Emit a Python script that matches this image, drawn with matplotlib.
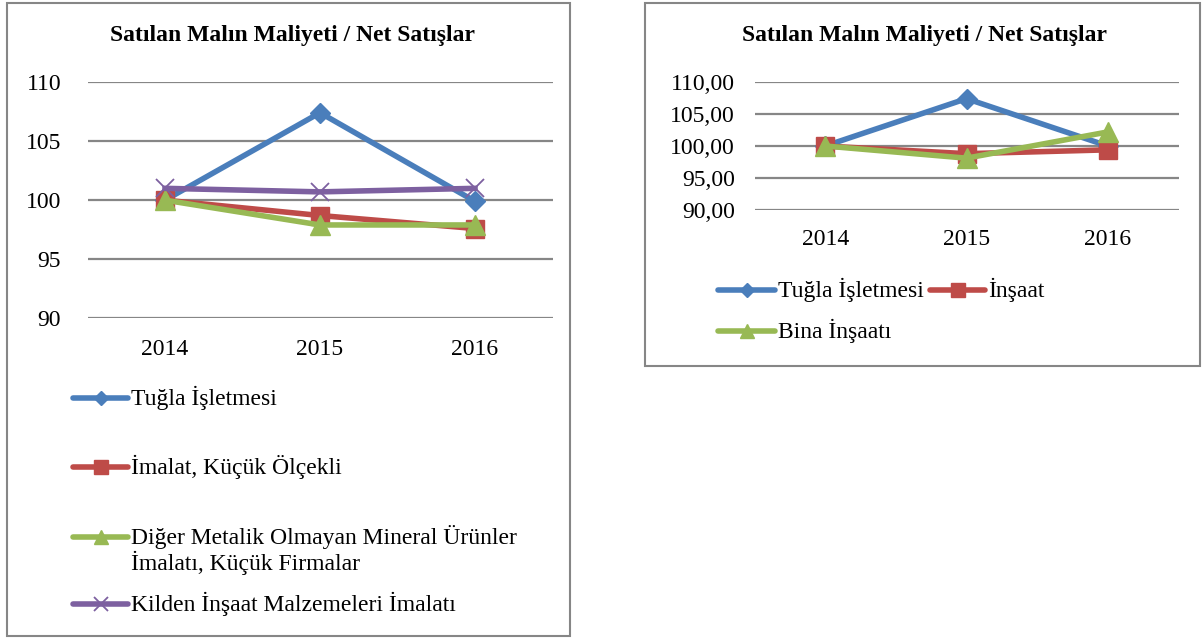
import matplotlib
matplotlib.use("Agg")
import matplotlib.pyplot as plt
from matplotlib.lines import Line2D
from matplotlib.patches import Rectangle

plt.rcParams['font.family'] = 'serif'
plt.rcParams['font.serif'] = ['Liberation Serif', 'DejaVu Serif']

years = ["2014", "2015", "2016"]
title = "Satılan Malın Maliyeti / Net Satışlar"

# Left chart
left_labels = ["Tuğla İşletmesi", "İmalat, Küçük Ölçekli",
               "Diğer Metalik Olmayan Mineral Ürünler\nİmalatı, Küçük Firmalar",
               "Kilden İnşaat Malzemeleri İmalatı"]
tugla_left = [100.0, 107.4, 99.9]
imalat_left = [100.0, 98.7, 97.6]
diger_left = [100.0, 97.9, 97.9]
kilden_left = [101.0, 100.7, 101.0]

# Right chart
right_labels = ["Tuğla İşletmesi", "İnşaat", "Bina İnşaatı"]
tugla_right = [100.0, 107.4, 100.0]
insaat_right = [100.0, 98.8, 99.4]
bina_right = [100.0, 98.1, 102.2]

yticks = [90, 95, 100, 105, 110]

BLUE = "#4A7EBB"
RED = "#BE4B48"
GREEN = "#98B954"
PURPLE = "#7D60A0"
GRID = "#868686"
FS = 17

W, H = 1202, 639
fig = plt.figure(figsize=(W / 100, H / 100), dpi=100)


def fx(x):
    return x / W


def fy(y):
    return 1 - y / H


def add_ax(x0, y0, x1, y1):
    return fig.add_axes([fx(x0), fy(y1), fx(x1 - x0), (y1 - y0) / H])


# Panel borders
fig.add_artist(Rectangle((fx(7), fy(636)), fx(570 - 7), (636 - 3) / H,
                         transform=fig.transFigure, fill=False,
                         edgecolor=GRID, lw=1.5))
fig.add_artist(Rectangle((fx(645), fy(366)), fx(1200 - 645), (366 - 3) / H,
                         transform=fig.transFigure, fill=False,
                         edgecolor=GRID, lw=1.5))

styles = {
    "blue": dict(color=BLUE, marker="D", markersize=10),
    "red": dict(color=RED, marker="s", markersize=13),
    "green": dict(color=GREEN, marker="^", markersize=14),
    "purple": dict(color=PURPLE, marker="x", markersize=13, markeredgewidth=1.3),
}


def style_axes(ax, fmt, pad_y, pad_x):
    ax.set_ylim(90, 110)
    ax.set_xlim(-0.5, 2.5)
    ax.set_yticks(yticks)
    ax.set_yticklabels([fmt(v) for v in yticks])
    ax.set_xticks(range(len(years)))
    ax.set_xticklabels(years)
    ax.tick_params(axis="y", length=0, pad=pad_y, labelsize=FS)
    ax.tick_params(axis="x", length=0, pad=pad_x, labelsize=FS)
    for s in ax.spines.values():
        s.set_visible(False)
    ax.grid(axis="y", color=GRID, lw=1.6)
    ax.set_axisbelow(True)


def legend_entry(x0, x1, y, tx, text, st, ty=None):
    fig.add_artist(Line2D([fx(x0), fx(x1)], [fy(y), fy(y)],
                          transform=fig.transFigure, color=st["color"],
                          lw=4, solid_capstyle="round"))
    fig.add_artist(Line2D([fx((x0 + x1) / 2)], [fy(y)],
                          transform=fig.transFigure, color=st["color"],
                          marker=st["marker"], markersize=st["markersize"] * 0.75,
                          markeredgewidth=st.get("markeredgewidth", 1.0),
                          linestyle="none"))
    fig.text(fx(tx), fy(ty if ty is not None else y), text, ha="left",
             va="center", fontsize=FS, linespacing=1.1)


# Left chart
axL = add_ax(87.5, 82, 552.5, 318.3)
x = range(len(years))
series_left = [(tugla_left, "blue"), (imalat_left, "red"),
               (diger_left, "green"), (kilden_left, "purple")]
for vals, key in series_left:
    axL.plot(x, vals, lw=4, **styles[key])
style_axes(axL, lambda v: f"{v}", 19, 15)
fig.text(fx(293), fy(36), title, ha="center", va="center",
         fontsize=17, fontweight="bold")

legend_rows = [398, 467, 537, 604]
text_rows = [398, 467, 550, 604]
for (vals, key), lab, yy, ty in zip(series_left, left_labels, legend_rows, text_rows):
    legend_entry(73, 128, yy, 131, lab, styles[key], ty)

# Right chart
axR = add_ax(754.5, 82, 1178.5, 210)
series_right = [(tugla_right, "blue"), (insaat_right, "red"), (bina_right, "green")]
for vals, key in series_right:
    axR.plot(x, vals, lw=4, **styles[key])
style_axes(axR, lambda v: f"{v:.2f}".replace(".", ","), 14, 14)
fig.text(fx(925), fy(36), title, ha="center", va="center",
         fontsize=17, fontweight="bold")

legend_entry(718, 775, 290, 778, right_labels[0], styles["blue"])
legend_entry(930, 985, 290, 988, right_labels[1], styles["red"])
legend_entry(718, 775, 331, 778, right_labels[2], styles["green"])

fig.savefig("out.png", dpi=100, facecolor="white")
